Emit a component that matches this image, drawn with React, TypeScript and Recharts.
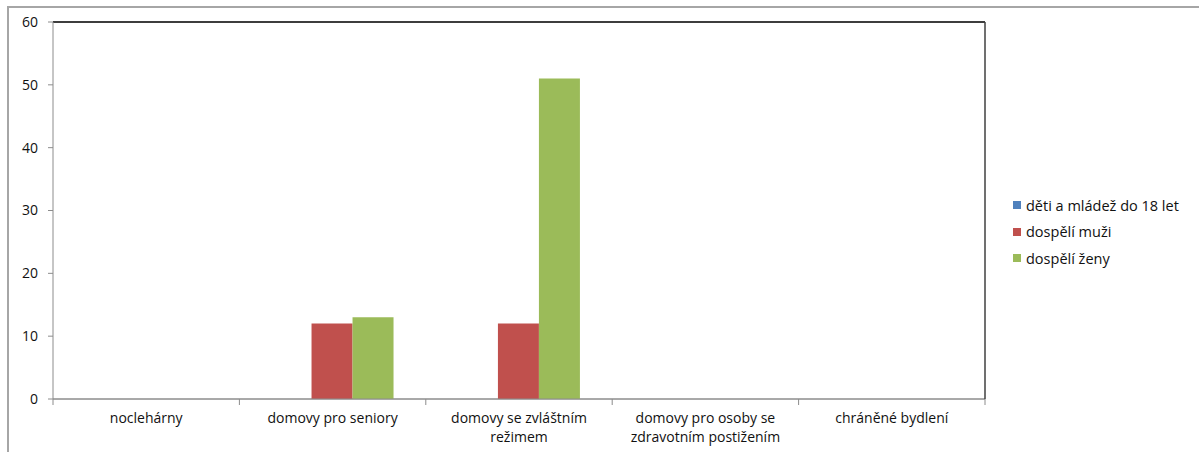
import React from "react";
import {
  BarChart,
  Bar,
  XAxis,
  YAxis,
  CartesianGrid,
  ReferenceLine,
  Text,
} from "recharts";

const categories = [
  "noclehárny",
  "domovy pro seniory",
  "domovy se zvláštním režimem",
  "domovy pro osoby se zdravotním postižením",
  "chráněné bydlení",
];
const detiMladez = [0, 0, 0, 0, 0];
const dospeliMuzi = [0, 12, 12, 0, 0];
const dospeleZeny = [0, 13, 51, 0, 0];
const yTicks = [0, 10, 20, 30, 40, 50, 60];

const series = [
  { key: "deti", name: "děti a mládež do 18 let", color: "#4F81BD" },
  { key: "muzi", name: "dospělí muži", color: "#C0504D" },
  { key: "zeny", name: "dospělí ženy", color: "#9BBB59" },
];

const data = categories.map((name, i) => ({
  name,
  deti: detiMladez[i],
  muzi: dospeliMuzi[i],
  zeny: dospeleZeny[i],
}));

const FONT = 14;
const BAND = (985 - 53) / categories.length;

const CategoryTick = (props: any) => {
  const { x, y, payload, index } = props;
  return (
    <g>
      <line x1={x - BAND / 2} x2={x - BAND / 2} y1={y} y2={y + 6} stroke="#8c8c8c" />
      {index === categories.length - 1 && (
        <line x1={x + BAND / 2} x2={x + BAND / 2} y1={y} y2={y + 6} stroke="#8c8c8c" />
      )}
      <Text
        x={x}
        y={y + 14}
        width={172}
        textAnchor="middle"
        verticalAnchor="start"
        lineHeight={19}
        fill="#111"
        fontSize={FONT}
      >
        {payload.value}
      </Text>
    </g>
  );
};

export default function App() {
  return (
    <div
      style={{
        position: "absolute",
        left: 0,
        top: 0,
        width: 1199,
        height: 452,
        overflow: "hidden",
        background: "#fff",
        fontFamily: "'Open Sans', sans-serif",
      }}
    >
      <div
        style={{
          position: "absolute",
          left: 7,
          top: 6,
          width: 1300,
          height: 500,
          borderLeft: "2px solid #a6a6a6",
          borderTop: "2px solid #a6a6a6",
        }}
      />
      <BarChart
        width={1199}
        height={452}
        data={data}
        margin={{ top: 22, right: 213, bottom: 0, left: 0 }}
        barCategoryGap="16.7%"
        barGap={0}
      >
        <CartesianGrid horizontal vertical={false} stroke="#8c8c8c" />
        <XAxis
          dataKey="name"
          xAxisId="cat"
          axisLine={{ stroke: "#8c8c8c" }}
          tickLine={false}
          tickSize={0}
          tickMargin={0}
          interval={0}
          height={53}
          tick={<CategoryTick />}
        />
        <YAxis
          yAxisId="val"
          domain={[0, 60]}
          ticks={yTicks}
          width={53}
          axisLine={{ stroke: "#8c8c8c" }}
          tickLine={{ stroke: "#8c8c8c" }}
          tickSize={5}
          tickMargin={10}
          tick={{ fill: "#111", fontSize: FONT }}
        />
        <YAxis
          yAxisId="right"
          orientation="right"
          domain={[0, 60]}
          width={1}
          tick={false}
          tickLine={false}
          axisLine={{ stroke: "#404040", strokeWidth: 1.5 }}
        />
        <ReferenceLine y={60} yAxisId="val" xAxisId="cat" stroke="#111" strokeWidth={1.5} />
        {series.map((s) => (
          <Bar
            key={s.key}
            dataKey={s.key}
            name={s.name}
            fill={s.color}
            xAxisId="cat"
            yAxisId="val"
            isAnimationActive={false}
          />
        ))}
      </BarChart>
      <div style={{ position: "absolute", left: 1013, top: 192 }}>
        {series.map((s) => (
          <div
            key={s.key}
            style={{ display: "flex", alignItems: "center", height: 26.5, fontSize: 14.5, color: "#111", whiteSpace: "nowrap" }}
          >
            <span style={{ width: 8, height: 8, background: s.color, marginRight: 5, display: "inline-block" }} />
            {s.name}
          </div>
        ))}
      </div>
    </div>
  );
}
